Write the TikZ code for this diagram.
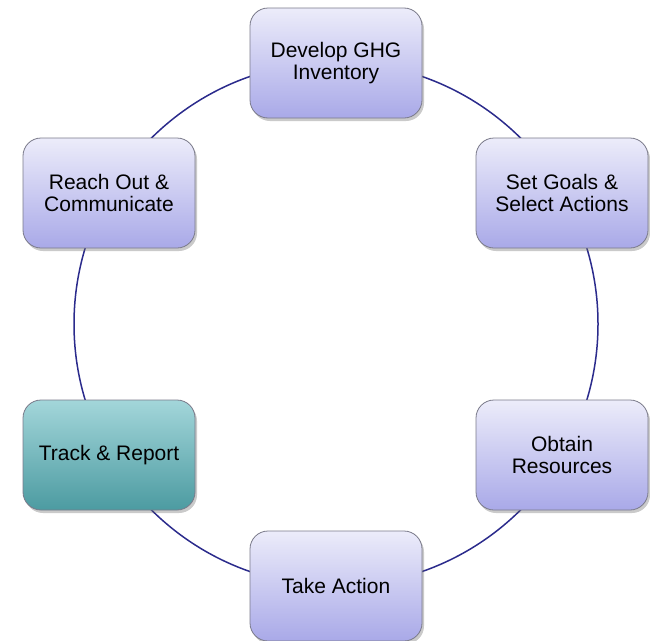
\documentclass[tikz,border=0pt]{standalone}
\usepackage{fontspec}
\setmainfont{Liberation Sans}
\usetikzlibrary{shadows}
\definecolor{lavtop}{HTML}{ECECFA}
\definecolor{lavbot}{HTML}{A9A9E8}
\definecolor{tealtop}{HTML}{A3D6DA}
\definecolor{tealbot}{HTML}{4C9BA1}
\definecolor{ringcol}{HTML}{2B2B8C}
\definecolor{edgecol}{HTML}{7A7A8A}
\tikzset{
  stepbox/.style={rectangle, rounded corners=18pt, minimum width=172pt, minimum height=110pt,
    draw=edgecol, line width=0.8pt, top color=lavtop, bottom color=lavbot,
    align=center, font=\fontsize{21}{22.5}\selectfont, text=black,
    drop shadow={shadow xshift=2pt, shadow yshift=-3pt, opacity=0.35, fill=black!60}},
  tealbox/.style={stepbox, top color=tealtop, bottom color=tealbot},
  ring/.style={draw=ringcol, line width=1.5pt}
}
\begin{document}
\begin{tikzpicture}[x=1pt,y=-1pt]
\useasboundingbox (0,0) rectangle (650,640);
\coordinate (c) at (336,324);
\draw[ring] (c) circle[radius=262pt];
\node[stepbox] (ghg) at (336,63) {Develop GHG\\Inventory};
\node[stepbox] (goals) at (562,193) {Set Goals \&\\Select Actions};
\node[stepbox] (res) at (562,455) {Obtain\\Resources};
\node[stepbox] (act) at (336,586) {Take Action};
\node[tealbox] (track) at (109,455) {Track \& Report};
\node[stepbox] (reach) at (109,193) {Reach Out \&\\Communicate};
\end{tikzpicture}
\end{document}
